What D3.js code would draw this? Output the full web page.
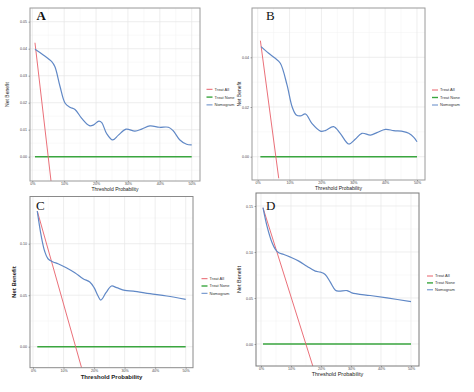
<!DOCTYPE html>
<html><head><meta charset="utf-8">
<script src="https://cdn.jsdelivr.net/npm/d3@7"></script>
<style>html,body{margin:0;padding:0;background:#fff;}svg{display:block;}</style>
</head><body>
<script>
// ---------- DATA ----------
const panelLetters = ["A","B","C","D"];
const legendLabels = ["Treat All","Treat None","Nomogram"];
const xTickLabels = ["0%","10%","20%","30%","40%","50%"];
const xTickValues = [0,0.1,0.2,0.3,0.4,0.5];

// Panel A
const thrA = [0.0084,0.0345,0.061,0.071,0.087,0.103,0.118,0.134,0.155,0.179,0.191,0.209,0.218,0.233,0.252,0.27,0.294,0.322,0.343,0.369,0.399,0.427,0.442,0.463,0.484,0.50];
const nomA = [0.0398,0.0377,0.0352,0.0333,0.026,0.0198,0.0183,0.0175,0.0142,0.0115,0.0117,0.0132,0.0126,0.0086,0.0062,0.008,0.0102,0.0095,0.0102,0.0114,0.0109,0.0109,0.0096,0.0062,0.0046,0.0044];
const allXA = [0.0084,0.059];
const allA = [0.0422,-0.0093];
const noneXA = [0.0084,0.50];
const yTicksA = [0,0.01,0.02,0.03,0.04,0.05];

// Panel B
const thrB = [0.0105,0.0345,0.055,0.071,0.092,0.108,0.121,0.134,0.15,0.17,0.197,0.212,0.238,0.259,0.286,0.306,0.327,0.354,0.374,0.401,0.427,0.458,0.474,0.49,0.50];
const nomB = [0.0443,0.0416,0.0396,0.0376,0.0289,0.0201,0.0168,0.0164,0.0172,0.0134,0.0103,0.0105,0.0121,0.0094,0.0051,0.007,0.0094,0.0087,0.0097,0.011,0.0105,0.0101,0.0094,0.0078,0.006];
const allXB = [0.0084,0.066];
const allB = [0.0467,-0.0087];
const noneXB = [0.0084,0.50];
const yTicksB = [0,0.02,0.04];

// Panel C
const thrC = [0.014,0.027,0.038,0.049,0.066,0.082,0.109,0.137,0.164,0.186,0.20,0.213,0.222,0.239,0.257,0.274,0.301,0.328,0.383,0.438,0.50];
const nomC = [0.1317,0.1074,0.0929,0.0854,0.0822,0.0806,0.0767,0.0718,0.066,0.0628,0.0573,0.0492,0.0453,0.0524,0.0589,0.0573,0.0547,0.054,0.0515,0.0492,0.046];
const allXC = [0.014,0.159];
const allC = [0.1317,-0.0204];
const noneXC = [0.014,0.50];
const yTicksC = [0,0.05,0.10];

// Panel D
const thrD = [0.0067,0.02,0.037,0.048,0.059,0.076,0.098,0.126,0.153,0.181,0.198,0.214,0.231,0.248,0.259,0.287,0.303,0.32,0.364,0.42,0.50];
const nomD = [0.1482,0.1282,0.11,0.1028,0.0992,0.0973,0.0944,0.0901,0.0846,0.0792,0.0781,0.0756,0.0672,0.0585,0.0574,0.0581,0.0556,0.0545,0.0527,0.0501,0.0461];
const allXD = [0.0067,0.173];
const allD = [0.148,-0.0243];
const noneXD = [0.0067,0.50];
const yTicksD = [0,0.05,0.10,0.15];

// ---------- LAYOUT ----------
const colors = {all:"#e8606a", none:"#3aa63f", nom:"#6088c6"};
const panels = [
  {letter:panelLetters[0], thr:thrA, nom:nomA, allX:allXA, all:allA, noneX:noneXA, yTicks:yTicksA,
   box:[30,8,200,181], xr:[32.3,191.7], yr:[156.7,21.7], yd:[0,0.05],
   letterPos:[36.5,20], letterBold:true, legend:[206.5,89.3,7.8], titleSize:5, xTitleY:190.6, yTitleX:9, border:"#9a9a9a"},
  {letter:panelLetters[1], thr:thrB, nom:nomB, allX:allXB, all:allB, noneX:noneXB, yTicks:yTicksB,
   box:[252,8,425,180], xr:[257.7,417], yr:[156.7,57.3], yd:[0,0.04],
   letterPos:[266,20], letterBold:false, legend:[432,90,7.5], titleSize:5, xTitleY:189.8, yTitleX:241, border:"#9a9a9a"},
  {letter:panelLetters[2], thr:thrC, nom:nomC, allX:allXC, all:allC, noneX:noneXC, yTicks:yTicksC,
   box:[30,196.5,193,367.7], xr:[33,185.7], yr:[346.7,243.7], yd:[0,0.10],
   letterPos:[36,209.5], letterBold:false, legend:[201.5,278.7,7.3], titleSize:6, xTitleY:378.6, yTitleX:16, border:"#8a8a8a"},
  {letter:panelLetters[3], thr:thrD, nom:nomD, allX:allXD, all:allD, noneX:noneXD, yTicks:yTicksD,
   box:[256,193,419,366], xr:[261,411], yr:[344,206], yd:[0,0.15],
   letterPos:[266,210], letterBold:false, legend:[427,276,6.9], titleSize:5.5, xTitleY:376.3, yTitleX:241, border:"#7a7a7a"}
];

const svg = d3.select("body").append("svg").attr("width",474).attr("height",392)
  .style("font-family","'Liberation Sans', Arial, sans-serif");

panels.forEach((p,i)=>{
  const [x0,y0,x1,y1] = p.box;
  const x = d3.scaleLinear().domain([0,0.5]).range(p.xr);
  const y = d3.scaleLinear().domain(p.yd).range(p.yr);
  const g = svg.append("g");
  const clipId = "clip"+i;
  svg.append("clipPath").attr("id",clipId).append("rect")
    .attr("x",x0).attr("y",y0).attr("width",x1-x0).attr("height",y1-y0);

  const yMin = y.invert(y1), yMax = y.invert(y0);
  const xMinor = d3.range(0.05,0.5,0.1);
  const step = p.yTicks[1]-p.yTicks[0];
  const yMinor = d3.range(p.yTicks[0]-step/2, yMax, step).filter(v=>v>yMin && v<yMax);
  const gg = g.append("g").attr("clip-path",`url(#${clipId})`);
  gg.selectAll(".vxm").data(xMinor).join("line")
    .attr("x1",d=>x(d)).attr("x2",d=>x(d)).attr("y1",y0).attr("y2",y1)
    .attr("stroke","#f2f2f2").attr("stroke-width",0.5);
  gg.selectAll(".hym").data(yMinor).join("line")
    .attr("y1",d=>y(d)).attr("y2",d=>y(d)).attr("x1",x0).attr("x2",x1)
    .attr("stroke","#f2f2f2").attr("stroke-width",0.5);
  gg.selectAll(".vx").data(xTickValues).join("line")
    .attr("x1",d=>x(d)).attr("x2",d=>x(d)).attr("y1",y0).attr("y2",y1)
    .attr("stroke","#e6e6e6").attr("stroke-width",0.7);
  gg.selectAll(".hy").data(p.yTicks).join("line")
    .attr("y1",d=>y(d)).attr("y2",d=>y(d)).attr("x1",x0).attr("x2",x1)
    .attr("stroke","#e6e6e6").attr("stroke-width",0.7);

  const lineXY = d3.line().x(d=>x(d[0])).y(d=>y(d[1]));
  gg.append("path").datum(p.noneX.map(v=>[v,0])).attr("d",lineXY)
    .attr("fill","none").attr("stroke",colors.none).attr("stroke-width",1.6);
  gg.append("path").datum(p.allX.map((v,k)=>[v,p.all[k]])).attr("d",lineXY)
    .attr("fill","none").attr("stroke",colors.all).attr("stroke-width",0.9);
  const smooth = d3.line().x(d=>x(d[0])).y(d=>y(d[1])).curve(d3.curveCatmullRom.alpha(0.5));
  gg.append("path").datum(p.thr.map((v,k)=>[v,p.nom[k]])).attr("d",smooth)
    .attr("fill","none").attr("stroke",colors.nom).attr("stroke-width",1.2);

  g.append("rect").attr("x",x0).attr("y",y0).attr("width",x1-x0).attr("height",y1-y0)
    .attr("fill","none").attr("stroke",p.border).attr("stroke-width",1);

  const xAxis = d3.axisBottom(x).tickValues(xTickValues).tickFormat((d,k)=>xTickLabels[k]).tickSize(1.2).tickPadding(0.4);
  const ax = g.append("g").attr("transform",`translate(0,${y1})`).call(xAxis);
  const yAxis = d3.axisLeft(y).tickValues(p.yTicks).tickFormat(d3.format(".2f")).tickSize(1.5).tickPadding(1.5);
  const ay = g.append("g").attr("transform",`translate(${x0},0)`).call(yAxis);
  [ax,ay].forEach(a=>{
    a.select(".domain").remove();
    a.selectAll(".tick line").attr("stroke","#555").attr("stroke-width",0.5);
    a.selectAll(".tick text").attr("fill","#444").style("font-size","3.6px").style("font-family","'Liberation Sans', Arial, sans-serif");
  });

  g.append("text").attr("x",(x0+x1)/2).attr("y",p.xTitleY).attr("text-anchor","middle")
    .attr("fill","#222").style("font-size",p.titleSize+"px").style("font-weight", i===2?"bold":"normal")
    .text("Threshold Probability");
  g.append("text").attr("transform",`translate(${p.yTitleX},${(y0+y1)/2}) rotate(-90)`).attr("text-anchor","middle")
    .attr("fill","#222").style("font-size",p.titleSize+"px").style("font-weight", i===2?"bold":"normal")
    .text("Net Benefit");

  g.append("text").attr("x",p.letterPos[0]).attr("y",p.letterPos[1])
    .style("font-family","'Liberation Serif','DejaVu Serif',serif").style("font-size","13px")
    .style("font-weight",p.letterBold?"bold":"normal").attr("fill","#111").text(p.letter);

  const [lx,ly,dy] = p.legend;
  const lc = [colors.all,colors.none,colors.nom];
  legendLabels.forEach((lab,k)=>{
    g.append("line").attr("x1",lx).attr("x2",lx+6).attr("y1",ly+k*dy).attr("y2",ly+k*dy)
      .attr("stroke",lc[k]).attr("stroke-width",k===1?1.4:1);
    g.append("text").attr("x",lx+8).attr("y",ly+k*dy+1.4).attr("fill","#333")
      .style("font-size","4px").text(lab);
  });
});
</script>
</body></html>
